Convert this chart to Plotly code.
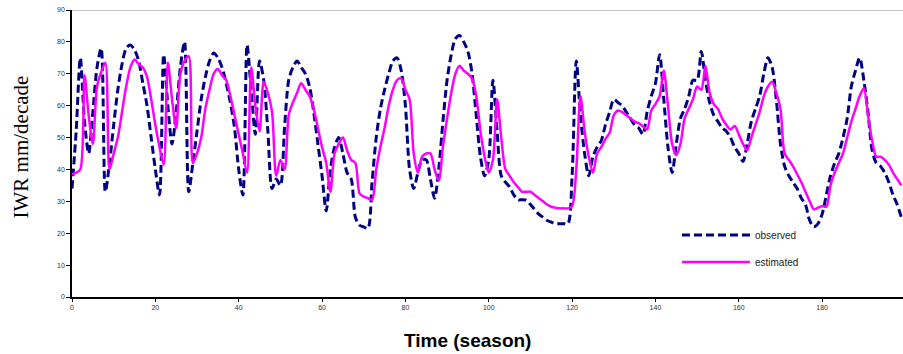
import plotly.graph_objects as go

# season index and values
obs_x = list(range(0, 200))
obs_y = [34, 52, 75, 55, 45, 58, 72, 78, 33, 42,
         54, 65, 73, 78, 79, 77.5, 74, 67, 60, 50,
         40, 32, 76, 60, 48, 58, 72, 80, 33, 42,
         52, 62, 69, 74, 76.5, 75, 72, 67, 61, 53,
         40, 32, 79, 65, 51, 74, 68, 52, 34, 37,
         35, 53, 68, 72, 74, 72, 70, 66, 58, 48,
         38, 27, 40, 47, 50, 45, 39, 37, 25, 22.5,
         22, 21.5, 36, 50, 59, 65, 70, 74, 75, 71,
         60, 40, 34, 39, 43, 43, 37, 31, 40, 55,
         68, 76, 81, 82, 80, 77, 70, 57, 44, 38,
         43, 68, 52, 38, 36, 34.5, 32, 30.5, 30.5, 30.4,
         29, 27.5, 26, 25, 24, 23.5, 23, 23, 23, 23,
         38, 74, 57, 45, 38, 44, 47, 49, 54, 58,
         62, 61, 60, 58, 56, 54, 53, 51, 58, 63,
         67, 76, 62, 47, 39, 48, 56, 59, 63, 68,
         68, 77, 68, 61, 57, 55, 53, 52, 50, 47,
         45, 42.5, 48, 55, 59, 63, 70, 75, 72, 62,
         48, 41, 38, 36, 34, 31, 29, 24, 22, 23,
         26, 32, 38, 42, 45, 50, 56, 66, 71, 75,
         68, 58, 46, 42, 41, 39, 36, 32, 29, 25]
est_x = list(range(0, 200))
est_y = [38.5, 39, 40, 69.5, 57, 48, 66, 70.5, 73.5, 40,
         45, 50, 58, 66, 72, 74.5, 73, 72, 69, 62,
         54, 47, 41.5, 73.5, 62, 53, 70, 74, 75.5, 42,
         45, 50, 59, 65, 70, 71.5, 69.5, 68, 63, 57,
         51, 45, 39, 72, 60, 52, 67.5, 64, 58, 38,
         43, 40, 57, 61, 64, 67, 65, 63, 59, 53,
         47, 42, 33, 45, 48, 50, 46, 43, 42, 32.5,
         31.5, 31, 30.5, 40, 47, 53, 60, 65, 68, 68.5,
         65, 62, 45, 39, 44, 45, 45, 40, 36.5, 47,
         56, 64, 70, 72.5, 71, 70, 68.5, 63, 52, 44,
         39, 43, 62, 50, 40, 38, 36, 34.5, 33, 33,
         33, 32, 31, 30, 29, 28.3, 28, 27.8, 27.8, 27.8,
         28.5, 40, 63, 52, 44, 39, 45, 47, 49.5, 51.5,
         57, 58.5, 58, 57, 56, 55, 54.5, 53.5, 52.5, 58.5,
         60.5, 63, 71, 60, 48, 44.5, 48, 56, 59, 62,
         66, 65, 72.5, 64, 60.5, 59, 56, 54, 52.5, 53.6,
         51, 48, 46, 50, 54, 58, 63, 66, 67.5, 64,
         59, 45, 43, 41, 38.5, 36, 33, 30, 27.5, 28,
         28.5, 28.3, 35, 39, 42, 45, 50, 55, 59, 63,
         65.5, 57, 49, 44, 44, 43, 41.5, 39, 37, 35]
x_ticks = [0, 20, 40, 60, 80, 100, 120, 140, 160, 180]
y_ticks = [0, 10, 20, 30, 40, 50, 60, 70, 80, 90]

fig = go.Figure()
fig.add_trace(go.Scatter(x=obs_x, y=obs_y, name="observed", mode="lines",
                         legendgroup="a",
                         line=dict(color="#000080", width=3, dash="8px,4px",
                                   shape="spline", smoothing=0.8)))
fig.add_trace(go.Scatter(x=est_x, y=est_y, name="estimated", mode="lines",
                         legendgroup="b",
                         line=dict(color="#FF00FF", width=2.5,
                                   shape="spline", smoothing=0.8)))

tickfont = dict(family="Liberation Sans, Arial", size=7, color="#333333")
fig.update_layout(
    width=903, height=354,
    margin=dict(l=72, r=0, t=10, b=57),
    paper_bgcolor="white", plot_bgcolor="white",
    showlegend=True,
    legend=dict(x=0.728, y=0.169, xanchor="left", yanchor="middle",
                bgcolor="rgba(0,0,0,0)", borderwidth=0,
                font=dict(family="Liberation Sans, Arial", size=10, color="#222222"),
                itemwidth=68, tracegroupgap=8),
    xaxis=dict(range=[0, 199.4], tickvals=x_ticks, ticktext=[str(v) for v in x_ticks],
               showgrid=False, zeroline=False, showline=True, linecolor="black",
               linewidth=1.5, ticks="outside", ticklen=3, tickcolor="black",
               tickfont=tickfont),
    yaxis=dict(range=[0, 90], tickvals=y_ticks, showgrid=False, zeroline=False,
               showline=True, linecolor="black", linewidth=1.5, ticks="outside",
               ticklen=4, tickcolor="black", tickfont=tickfont),
    shapes=[dict(type="line", xref="paper", yref="y", x0=0, x1=1, y0=90, y1=90,
                 line=dict(color="#888888", width=1))],
    annotations=[
        dict(text="IWR mm/decade", xref="paper", yref="paper", x=0, y=0.5,
             xanchor="center", yanchor="middle", xshift=-52, yshift=6, textangle=-90,
             showarrow=False,
             font=dict(family="Liberation Serif, Times New Roman", size=21, color="black")),
        dict(text="<b>Time (season)</b>", xref="paper", yref="paper", x=0.5, y=0,
             xanchor="center", yanchor="middle", xshift=-20, yshift=-43,
             showarrow=False,
             font=dict(family="Liberation Sans, Arial", size=19, color="black")),
    ],
)
fig.write_html("out.html", config={"displayModeBar": False},
               post_script="document.body.style.margin='0';")
